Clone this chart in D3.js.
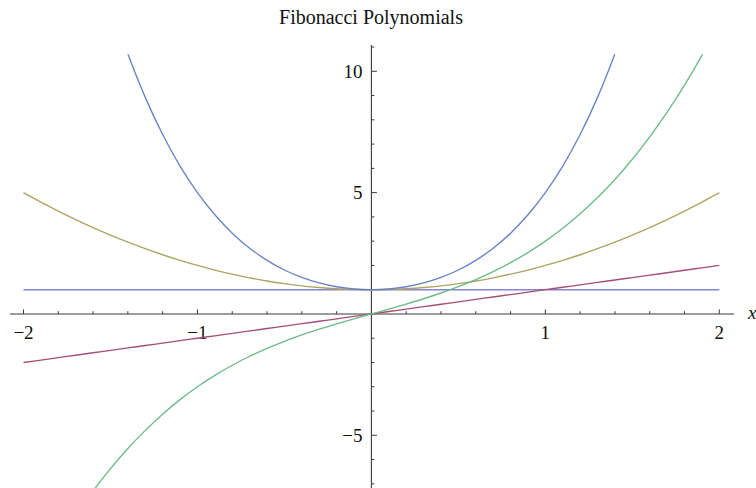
<!DOCTYPE html>
<html>
<head>
<meta charset="utf-8">
<script src="https://cdn.jsdelivr.net/npm/d3@7"></script>
<style>
  html, body { margin: 0; padding: 0; background: #fff; }
  svg { display: block; }
</style>
</head>
<body>
<svg id="chart" width="756" height="488"></svg>
<script>
// Sample points of the first five Fibonacci polynomials on [-2, 2]
const xs = [-2.0, -1.9, -1.8, -1.7, -1.6, -1.5, -1.4, -1.3, -1.2, -1.1, -1.0,
            -0.9, -0.8, -0.7, -0.6, -0.5, -0.4, -0.3, -0.2, -0.1, 0.0,
             0.1, 0.2, 0.3, 0.4, 0.5, 0.6, 0.7, 0.8, 0.9, 1.0,
             1.1, 1.2, 1.3, 1.4, 1.5, 1.6, 1.7, 1.8, 1.9, 2.0];

// F1(x) = 1
const f1 = [1, 1, 1, 1, 1, 1, 1, 1, 1, 1, 1,
            1, 1, 1, 1, 1, 1, 1, 1, 1, 1,
            1, 1, 1, 1, 1, 1, 1, 1, 1, 1,
            1, 1, 1, 1, 1, 1, 1, 1, 1, 1];

// F2(x) = x
const f2 = [-2.0, -1.9, -1.8, -1.7, -1.6, -1.5, -1.4, -1.3, -1.2, -1.1, -1.0,
            -0.9, -0.8, -0.7, -0.6, -0.5, -0.4, -0.3, -0.2, -0.1, 0.0,
             0.1, 0.2, 0.3, 0.4, 0.5, 0.6, 0.7, 0.8, 0.9, 1.0,
             1.1, 1.2, 1.3, 1.4, 1.5, 1.6, 1.7, 1.8, 1.9, 2.0];

// F3(x) = x^2 + 1
const f3 = [5.00, 4.61, 4.24, 3.89, 3.56, 3.25, 2.96, 2.69, 2.44, 2.21, 2.00,
            1.81, 1.64, 1.49, 1.36, 1.25, 1.16, 1.09, 1.04, 1.01, 1.00,
            1.01, 1.04, 1.09, 1.16, 1.25, 1.36, 1.49, 1.64, 1.81, 2.00,
            2.21, 2.44, 2.69, 2.96, 3.25, 3.56, 3.89, 4.24, 4.61, 5.00];

// F4(x) = x^3 + 2x
const f4 = [-12.000, -10.659, -9.432, -8.313, -7.296, -6.375, -5.544, -4.797, -4.128, -3.531, -3.000,
            -2.529, -2.112, -1.743, -1.416, -1.125, -0.864, -0.627, -0.408, -0.201, 0.000,
             0.201, 0.408, 0.627, 0.864, 1.125, 1.416, 1.743, 2.112, 2.529, 3.000,
             3.531, 4.128, 4.797, 5.544, 6.375, 7.296, 8.313, 9.432, 10.659, 12.000];

// F5(x) = x^4 + 3x^2 + 1 (leaves the plot range beyond |x| = 1.5)
const xs5 = [-1.5, -1.4, -1.3, -1.2, -1.1, -1.0, -0.9, -0.8, -0.7, -0.6, -0.5,
             -0.4, -0.3, -0.2, -0.1, 0.0, 0.1, 0.2, 0.3, 0.4, 0.5,
              0.6, 0.7, 0.8, 0.9, 1.0, 1.1, 1.2, 1.3, 1.4, 1.5];
const f5 = [12.8125, 10.7216, 8.9261, 7.3936, 6.0941, 5.0000, 4.0861, 3.3296, 2.7101, 2.2096, 1.8125,
            1.5056, 1.2781, 1.1216, 1.0301, 1.0000, 1.0301, 1.1216, 1.2781, 1.5056, 1.8125,
            2.2096, 2.7101, 3.3296, 4.0861, 5.0000, 6.0941, 7.3936, 8.9261, 10.7216, 12.8125];

const xMajor = [-2, -1, 1, 2];
const xMajorLabels = ["\u22122", "\u22121", "1", "2"];
const yMajor = [-5, 5, 10];
const yMajorLabels = ["\u22125", "5", "10"];
const xMinor = [-1.8, -1.6, -1.4, -1.2, -0.8, -0.6, -0.4, -0.2,
                0.2, 0.4, 0.6, 0.8, 1.2, 1.4, 1.6, 1.8];
const yMinor = [-7, -6, -4, -3, -2, -1, 1, 2, 3, 4, 6, 7, 8, 9, 11];

const titleText = "Fibonacci Polynomials";
const xLabel = "x";

const seriesColors = ["#8585d4", "#a64d76", "#b0a361", "#6cbb88", "#6783c3"];

const svg = d3.select("#chart");

const x = d3.scaleLinear().domain([-2, 2]).range([23.5, 719.3]);
const y = d3.scaleLinear().domain([-5, 10]).range([435.3, 71.3]);

const x0 = x(0), y0 = y(0);

// Plot clip region (curves stop slightly below the top of the vertical axis)
svg.append("clipPath").attr("id", "plotClip")
  .append("rect")
  .attr("x", x(-2.08)).attr("y", y(10.7))
  .attr("width", x(2.08) - x(-2.08))
  .attr("height", 488 - y(10.7));

const line = d3.line()
  .x(d => x(d[0]))
  .y(d => y(d[1]))
  .curve(d3.curveCatmullRom.alpha(0.5));

const series = [
  d3.zip(xs, f1),
  d3.zip(xs, f2),
  d3.zip(xs, f3),
  d3.zip(xs, f4),
  d3.zip(xs5, f5)
];

const axisColor = "#3a3a3a";

// Axes
const axes = svg.append("g");
axes.append("line")
  .attr("x1", 10).attr("x2", 734)
  .attr("y1", y0).attr("y2", y0)
  .attr("stroke", axisColor).attr("stroke-width", 1.1);
axes.append("line")
  .attr("x1", x0).attr("x2", x0)
  .attr("y1", 45).attr("y2", 488)
  .attr("stroke", axisColor).attr("stroke-width", 1.1);

// x ticks point up into the plot
axes.selectAll(".xmaj").data(xMajor).join("line")
  .attr("x1", d => x(d)).attr("x2", d => x(d))
  .attr("y1", y0).attr("y2", y0 - 4.5)
  .attr("stroke", axisColor).attr("stroke-width", 1);
axes.selectAll(".xmin").data(xMinor).join("line")
  .attr("x1", d => x(d)).attr("x2", d => x(d))
  .attr("y1", y0).attr("y2", y0 - 2.8)
  .attr("stroke", axisColor).attr("stroke-width", 1);

// y ticks point right
axes.selectAll(".ymaj").data(yMajor).join("line")
  .attr("x1", x0).attr("x2", x0 + 5.5)
  .attr("y1", d => y(d)).attr("y2", d => y(d))
  .attr("stroke", axisColor).attr("stroke-width", 1);
axes.selectAll(".ymin").data(yMinor).join("line")
  .attr("x1", x0).attr("x2", x0 + 3)
  .attr("y1", d => y(d)).attr("y2", d => y(d))
  .attr("stroke", axisColor).attr("stroke-width", 1);

const labelFont = "'Liberation Serif', 'DejaVu Serif', serif";

axes.selectAll(".xlab").data(xMajor).join("text")
  .attr("x", d => x(d)).attr("y", y0 + 25)
  .attr("text-anchor", "middle")
  .attr("font-family", labelFont).attr("font-size", 19)
  .attr("fill", "#111")
  .text((d, i) => xMajorLabels[i]);

axes.selectAll(".ylab").data(yMajor).join("text")
  .attr("x", x0 - 9).attr("y", d => y(d) + 6.5)
  .attr("text-anchor", "end")
  .attr("font-family", labelFont).attr("font-size", 19)
  .attr("fill", "#111")
  .text((d, i) => yMajorLabels[i]);

// axis name, partly past the right edge
axes.append("text")
  .attr("x", 748).attr("y", y0 + 5)
  .attr("font-family", labelFont).attr("font-style", "italic")
  .attr("font-size", 19).attr("fill", "#111")
  .text(xLabel);

// Curves
svg.append("g").attr("clip-path", "url(#plotClip)")
  .selectAll("path").data(series).join("path")
  .attr("d", line)
  .attr("fill", "none")
  .attr("stroke", (d, i) => seriesColors[i])
  .attr("stroke-width", 1.35);

// Title
svg.append("text")
  .attr("x", 371).attr("y", 24)
  .attr("text-anchor", "middle")
  .attr("font-family", labelFont).attr("font-size", 20)
  .attr("fill", "#111")
  .text(titleText);
</script>
</body>
</html>
